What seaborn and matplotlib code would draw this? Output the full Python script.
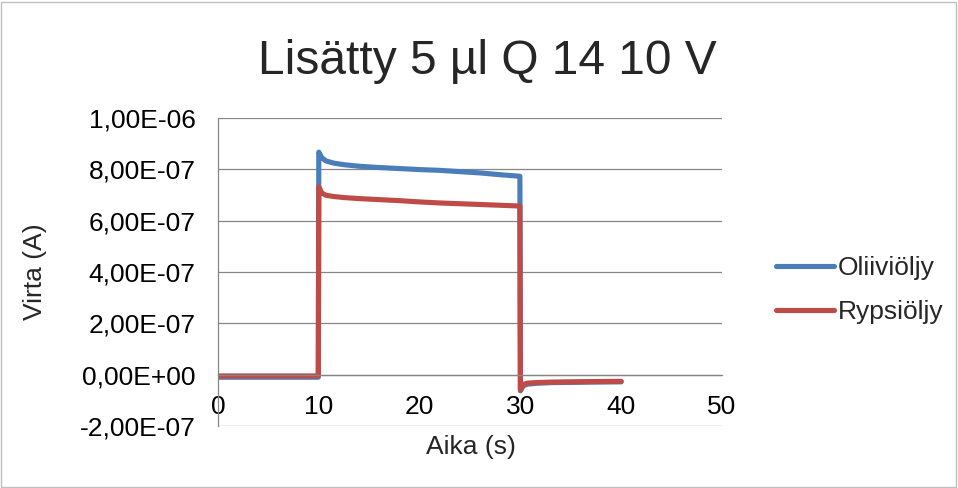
import numpy as np
import pandas as pd
import matplotlib
matplotlib.use("Agg")
import matplotlib.pyplot as plt
import seaborn as sns
from matplotlib.patches import Rectangle
from matplotlib.lines import Line2D

# ---- data ----
title = "Lisätty 5 µl Q 14 10 V"
series_names = ["Oliiviöljy", "Rypsiöljy"]
time_s = [0, 2, 4, 6, 8, 9.95, 10.0, 10.3, 10.7, 11.5, 12.5, 14, 16, 18, 20, 22,
          24, 26, 28, 29.95, 30.0, 30.3, 30.7, 31.5, 33, 35, 37, 40]
oliivi_e7 = [-0.1, -0.1, -0.1, -0.1, -0.1, -0.1, 8.67, 8.45, 8.33, 8.24, 8.18, 8.12,
             8.07, 8.03, 7.99, 7.96, 7.91, 7.86, 7.79, 7.73, -0.63, -0.43, -0.37,
             -0.34, -0.31, -0.30, -0.29, -0.28]
rypsi_e7 = [-0.05, -0.05, -0.05, -0.05, -0.05, -0.05, 7.32, 7.08, 6.99, 6.94, 6.9, 6.86,
            6.82, 6.78, 6.73, 6.69, 6.66, 6.63, 6.6, 6.57, -0.6, -0.38, -0.33,
            -0.31, -0.29, -0.28, -0.27, -0.26]
x_ticks = [0, 10, 20, 30, 40, 50]
y_ticks = [-2e-7, 0, 2e-7, 4e-7, 6e-7, 8e-7, 1e-6]
y_tick_labels = ["-2,00E-07", "0,00E+00", "2,00E-07", "4,00E-07", "6,00E-07",
                 "8,00E-07", "1,00E-06"]
x_label = "Aika (s)"
y_label = "Virta (A)"
colors = ["#4A7EBB", "#BE4B48"]

df = pd.DataFrame({
    "t": time_s * 2,
    "I": [v * 1e-7 for v in oliivi_e7] + [v * 1e-7 for v in rypsi_e7],
    "series": [series_names[0]] * len(time_s) + [series_names[1]] * len(time_s),
})

sns.set_theme(style="white")
plt.rcParams["font.family"] = ["Liberation Sans", "DejaVu Sans"]

W, H = 958, 488
fs = 19
fig = plt.figure(figsize=(W / 100, H / 100), dpi=100)
left, right, top, bottom = 218, 722, 118, 426
ax = fig.add_axes([left / W, 1 - bottom / H, (right - left) / W, (bottom - top) / H])

grid_c = "#868686"
for yv in y_ticks:
    ax.axhline(yv, color=grid_c, lw=0.9, zorder=0)

sns.lineplot(data=df, x="t", y="I", hue="series", palette=colors, hue_order=series_names,
             estimator=None, sort=False, lw=3.7, ax=ax, legend=False,
             solid_capstyle="round", solid_joinstyle="round")

ax.set_xlim(0, 50)
ax.set_ylim(-2e-7, 1e-6)
ax.set_yticks(y_ticks)
ax.set_yticklabels(y_tick_labels)
ax.set_xticks(x_ticks)
ax.set_xticklabels([str(v) for v in x_ticks])
ax.set_xlabel("")
ax.set_ylabel("")

for s in ["top", "right"]:
    ax.spines[s].set_visible(False)
ax.spines["left"].set_color(grid_c)
ax.spines["left"].set_linewidth(0.9)
ax.spines["bottom"].set_position(("data", 0))
ax.spines["bottom"].set_color(grid_c)
ax.spines["bottom"].set_linewidth(0.9)
ax.tick_params(axis="both", length=0, labelsize=fs, colors="black")
ax.tick_params(axis="x", pad=15)
ax.tick_params(axis="y", pad=16)

fig.text(487 / W, 1 - 62 / H, title, ha="center", va="center", fontsize=34.5)
fig.text(471 / W, 1 - 447 / H, x_label, ha="center", va="center", fontsize=fs)
fig.text(35 / W, 1 - 272 / H, y_label, ha="center", va="center", rotation=90, fontsize=fs)

handles = [Line2D([0], [0], color=c, lw=3.7, solid_capstyle="round") for c in colors]
leg = fig.legend(handles, series_names, loc="center left",
                 bbox_to_anchor=(776 / W, 1 - 290 / H), bbox_transform=fig.transFigure,
                 frameon=False, fontsize=fs, handlelength=2.2, handletextpad=0.15,
                 labelspacing=0.75, borderaxespad=0, borderpad=0)

fig.patches.append(Rectangle((1 / W, 1 / H), (W - 3) / W, (H - 3) / H,
                             transform=fig.transFigure, fill=False,
                             edgecolor="#BFBFBF", lw=1.0))

fig.savefig("out.png", dpi=100, facecolor="white")
